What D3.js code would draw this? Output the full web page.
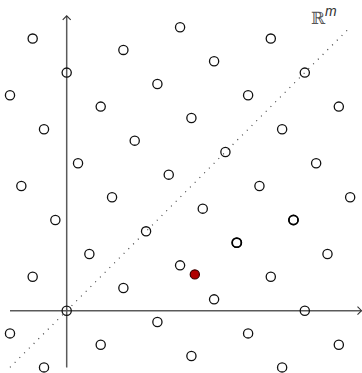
<!DOCTYPE html>
<html>
<head>
<meta charset="utf-8">
<script src="https://cdn.jsdelivr.net/npm/d3@7"></script>
<style>
  html, body { margin: 0; padding: 0; background: #fff; }
  svg { display: block; }
</style>
</head>
<body>
<div id="chart"></div>
<script>
// lattice points (integer coords)
const latticeX = [-5, -2, -3, 0, 3, -4, -1, 2, 5, 8, 11, -5, -2, 1, 4, 7, 10, 13, 16, 19,
                  -3, 0, 3, 6, 9, 12, 15, 18, 21, 24, 5, 8, 11, 14, 17, 20, 23,
                  10, 13, 16, 19, 22, 25, 18, 21, 24];
const latticeY = [-2, -5, 3, 0, -3, 11, 8, 5, 2, -1, -4, 19, 16, 13, 10, 7, 4, 1, -2, -5,
                  24, 21, 18, 15, 12, 9, 6, 3, 0, -3, 23, 20, 17, 14, 11, 8, 5,
                  25, 22, 19, 16, 13, 10, 24, 21, 18];
// the two circles drawn heavier
const boldX = [15, 20];
const boldY = [6, 8];
// the red point
const targetX = [11.3];
const targetY = [3.2];
// axis extent and the diagonal subspace
const axisMin = -5, axisMax = 26;
const diagFrom = -5, diagTo = 25;
const label = "\u211D";
const labelSup = "m";

const width = 362, height = 373;

const x = d3.scaleLinear().domain([axisMin, axisMax]).range([10, 361.5]);
const y = d3.scaleLinear().domain([axisMin, axisMax]).range([367.4, 15.9]);

const svg = d3.select("#chart").append("svg")
  .attr("width", width)
  .attr("height", height);

const axisColor = "#5a5a5a";

// axes
svg.append("line")
  .attr("x1", x(axisMin)).attr("y1", y(0))
  .attr("x2", x(axisMax)).attr("y2", y(0))
  .attr("stroke", axisColor).attr("stroke-width", 1.5);
svg.append("line")
  .attr("x1", x(0)).attr("y1", y(axisMin))
  .attr("x2", x(0)).attr("y2", y(axisMax))
  .attr("stroke", axisColor).attr("stroke-width", 1.5);

// open arrow heads
const tipX = [x(axisMax), y(0)];
const tipY = [x(0), y(axisMax)];
svg.append("path")
  .attr("d", `M${tipX[0] - 4},${tipX[1] - 4}L${tipX[0]},${tipX[1]}L${tipX[0] - 4},${tipX[1] + 4}`)
  .attr("fill", "none").attr("stroke", "#333").attr("stroke-width", 1.1);
svg.append("path")
  .attr("d", `M${tipY[0] - 4},${tipY[1] + 4}L${tipY[0]},${tipY[1]}L${tipY[0] + 4},${tipY[1] + 4}`)
  .attr("fill", "none").attr("stroke", "#333").attr("stroke-width", 1.1);

// dotted diagonal
svg.append("line")
  .attr("x1", x(diagFrom)).attr("y1", y(diagFrom))
  .attr("x2", x(diagTo)).attr("y2", y(diagTo))
  .attr("stroke", "#444")
  .attr("stroke-width", 1.2)
  .attr("stroke-dasharray", "1,5.7");

// lattice circles
const pts = latticeX.map((v, i) => ({x: v, y: latticeY[i]}));
svg.selectAll("circle.pt")
  .data(pts)
  .enter()
  .append("circle")
  .attr("class", "pt")
  .attr("cx", d => x(d.x))
  .attr("cy", d => y(d.y))
  .attr("r", 4.6)
  .attr("fill", "none")
  .attr("stroke", "#111")
  .attr("stroke-width", 1.3);

svg.selectAll("circle.bold")
  .data(boldX.map((v, i) => ({x: v, y: boldY[i]})))
  .enter()
  .append("circle")
  .attr("class", "bold")
  .attr("cx", d => x(d.x))
  .attr("cy", d => y(d.y))
  .attr("r", 4.6)
  .attr("fill", "none")
  .attr("stroke", "#000")
  .attr("stroke-width", 1.7);

svg.selectAll("circle.target")
  .data(targetX.map((v, i) => ({x: v, y: targetY[i]})))
  .enter()
  .append("circle")
  .attr("class", "target")
  .attr("cx", d => x(d.x))
  .attr("cy", d => y(d.y))
  .attr("r", 4.6)
  .attr("fill", "#b00000")
  .attr("stroke", "#3a0000")
  .attr("stroke-width", 1.2);

// R^m label
svg.append("text")
  .attr("x", 311)
  .attr("y", 24)
  .attr("fill", "#555")
  .style("font-family", "'DejaVu Serif', serif")
  .style("font-size", "17px")
  .text(label);
svg.append("text")
  .attr("x", 325)
  .attr("y", 15.5)
  .attr("fill", "#333")
  .style("font-family", "'Liberation Sans', sans-serif")
  .style("font-style", "italic")
  .style("font-size", "14px")
  .text(labelSup);
</script>
</body>
</html>
